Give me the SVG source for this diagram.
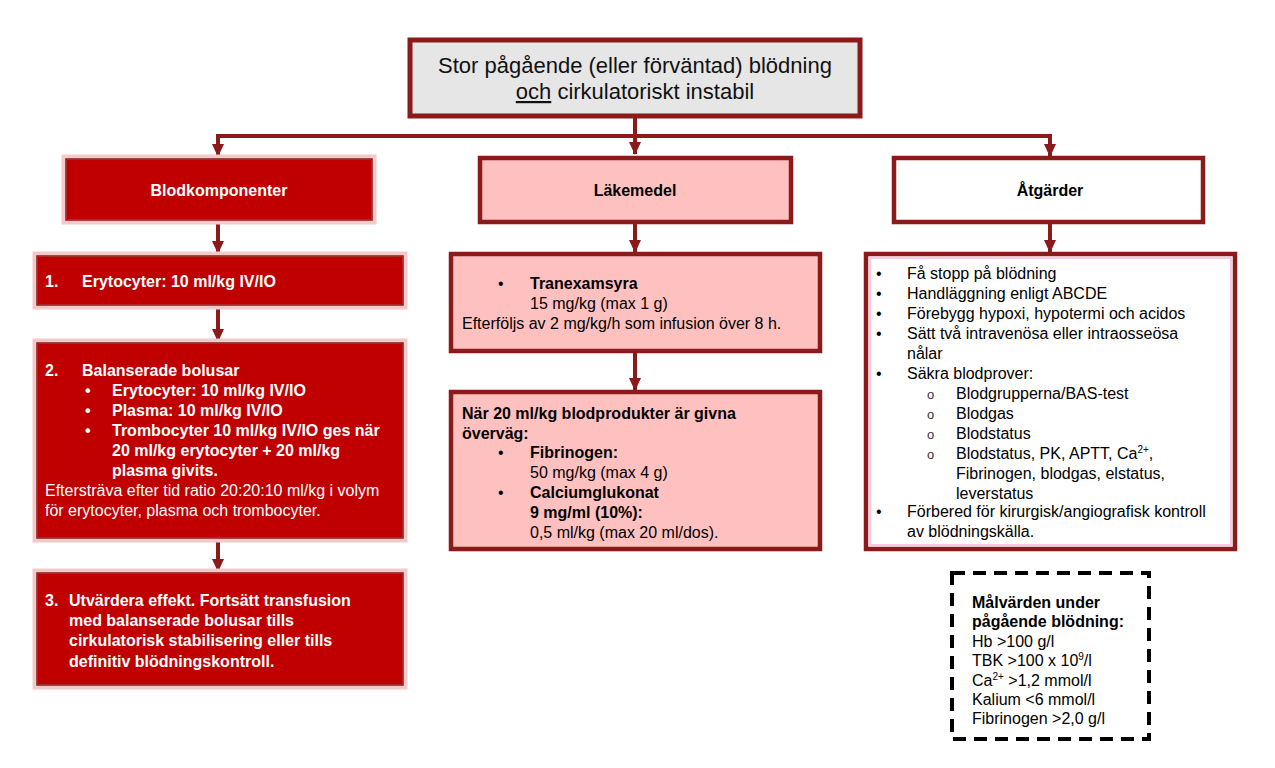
<svg xmlns="http://www.w3.org/2000/svg" width="1275" height="768" viewBox="0 0 1275 768">
<defs>
<marker id="arr" markerWidth="14" markerHeight="12" refX="12" refY="6" orient="auto" markerUnits="userSpaceOnUse">
<path d="M0,0 L13,6 L0,12 Z" fill="#8b1a1a"/>
</marker>
</defs>
<style>
text{font-family:"Liberation Sans",Arial,sans-serif;}
.t{font-size:16px;fill:#000;}
.tb{font-size:16px;font-weight:bold;fill:#000;}
.w{font-size:16px;font-weight:bold;fill:#fff;}
.wr{font-size:16px;fill:#fff;}
.o{font-size:13px;fill:#333;}
.sup{font-size:10px;}
.red{fill:#c00000;stroke:#f3c9c9;stroke-width:5;}
.redin{fill:none;stroke:#8b1a1a;stroke-width:1.5;}
.pink{fill:#ffc0c0;stroke:#8b1a1a;stroke-width:4.5;}
.white{fill:#fff;stroke:#8b1a1a;stroke-width:4.5;}
.halo{fill:none;stroke:#f8c8e8;stroke-width:2;}
.con{stroke:#8b1a1a;stroke-width:4;fill:none;}
</style>
<rect width="1275" height="768" fill="#fff"/>
<g id="connectors">
<line class="con" x1="635" y1="116" x2="635" y2="136"/>
<polyline class="con" points="218,146 218,136 1050,136 1050,146"/>
<line class="con" x1="635" y1="136" x2="635" y2="154" marker-end="url(#arr)"/>
<line class="con" x1="218" y1="146" x2="218" y2="156" marker-end="url(#arr)"/>
<line class="con" x1="1050" y1="146" x2="1050" y2="156" marker-end="url(#arr)"/>
<line class="con" x1="218" y1="221" x2="218" y2="253" marker-end="url(#arr)"/>
<line class="con" x1="218" y1="306" x2="218" y2="341" marker-end="url(#arr)"/>
<line class="con" x1="218" y1="539" x2="218" y2="571" marker-end="url(#arr)"/>
<line class="con" x1="635" y1="223" x2="635" y2="252" marker-end="url(#arr)"/>
<line class="con" x1="635" y1="352" x2="635" y2="390" marker-end="url(#arr)"/>
<line class="con" x1="1050" y1="223" x2="1050" y2="252" marker-end="url(#arr)"/>
</g>
<g id="top">
<rect x="410" y="40" width="450" height="76" fill="#e6e6e6" stroke="#8b1a1a" stroke-width="5"/>
<text x="635" y="73" text-anchor="middle" style="font-size:22px" fill="#111">Stor pågående (eller förväntad) blödning</text>
<text x="635" y="99" text-anchor="middle" style="font-size:22px" fill="#111"><tspan text-decoration="underline">och</tspan> cirkulatoriskt instabil</text>
</g>
<g id="blodkomponenter">
<rect class="red" x="64" y="157" width="310" height="65"/>
<rect class="redin" x="66" y="159" width="306" height="61"/>
<text class="w" x="219" y="196" text-anchor="middle">Blodkomponenter</text>
</g>
<g id="step1">
<rect class="red" x="35" y="254" width="370" height="53"/>
<rect class="redin" x="37" y="256" width="366" height="49"/>
<text class="w" x="45" y="287">1.</text>
<text class="w" x="82" y="287">Erytocyter: 10 ml/kg IV/IO</text>
</g>
<g id="step2">
<rect class="red" x="35" y="341" width="370" height="199"/>
<rect class="redin" x="37" y="343" width="366" height="195"/>
<text class="w" x="45" y="376">2.</text>
<text class="w" x="82" y="376">Balanserade bolusar</text>
<text class="w" x="85" y="396">•</text><text class="w" x="112" y="396">Erytocyter: 10 ml/kg IV/IO</text>
<text class="w" x="85" y="416">•</text><text class="w" x="112" y="416">Plasma: 10 ml/kg IV/IO</text>
<text class="w" x="85" y="436">•</text><text class="w" x="112" y="436">Trombocyter 10 ml/kg IV/IO ges när</text>
<text class="w" x="112" y="456">20 ml/kg erytocyter + 20 ml/kg</text>
<text class="w" x="112" y="476">plasma givits.</text>
<text class="wr" x="45" y="496">Eftersträva efter tid ratio 20:20:10 ml/kg i volym</text>
<text class="wr" x="45" y="516">för erytocyter, plasma och trombocyter.</text>
</g>
<g id="step3">
<rect class="red" x="35" y="571" width="370" height="116"/>
<rect class="redin" x="37" y="573" width="366" height="112"/>
<text class="w" x="45" y="606">3.</text>
<text class="w" x="69" y="606">Utvärdera effekt. Fortsätt transfusion</text>
<text class="w" x="69" y="626">med balanserade bolusar tills</text>
<text class="w" x="69" y="646">cirkulatorisk stabilisering eller tills</text>
<text class="w" x="69" y="667">definitiv blödningskontroll.</text>
</g>
<g id="lakemedel">
<rect class="pink" x="480" y="158" width="311" height="64"/>
<text class="tb" x="635" y="196" text-anchor="middle">Läkemedel</text>
</g>
<g id="tranexamsyra">
<rect class="pink" x="451" y="254" width="369" height="97"/>
<text class="t" x="498" y="289">•</text>
<text class="tb" x="530" y="289">Tranexamsyra</text>
<text class="t" x="530" y="309">15 mg/kg (max 1 g)</text>
<text class="t" x="462" y="329">Efterföljs av 2 mg/kg/h som infusion över 8 h.</text>
</g>
<g id="overvag">
<rect class="pink" x="451" y="392" width="369" height="157"/>
<text class="tb" x="462" y="419">När 20 ml/kg blodprodukter är givna</text>
<text class="tb" x="462" y="439">överväg:</text>
<text class="t" x="498" y="458">•</text>
<text class="tb" x="530" y="458">Fibrinogen:</text>
<text class="t" x="530" y="478">50 mg/kg (max 4 g)</text>
<text class="t" x="498" y="498">•</text>
<text class="tb" x="530" y="498">Calciumglukonat</text>
<text class="tb" x="530" y="518">9 mg/ml (10%):</text>
<text class="t" x="530" y="538">0,5 ml/kg (max 20 ml/dos).</text>
</g>
<g id="atgarder">
<rect class="white" x="894" y="158" width="309" height="64"/>
<text class="tb" x="1050" y="196" text-anchor="middle">Åtgärder</text>
</g>
<g id="atgarder-list">
<rect class="white" x="866" y="254" width="369" height="295"/>
<rect class="halo" x="870" y="258" width="361" height="287"/>
<text class="t" x="876" y="279">•</text><text class="t" x="907" y="279">Få stopp på blödning</text>
<text class="t" x="876" y="299">•</text><text class="t" x="907" y="299">Handläggning enligt ABCDE</text>
<text class="t" x="876" y="319">•</text><text class="t" x="907" y="319">Förebygg hypoxi, hypotermi och acidos</text>
<text class="t" x="876" y="339">•</text><text class="t" x="907" y="339">Sätt två intravenösa eller intraosseösa</text>
<text class="t" x="907" y="359">nålar</text>
<text class="t" x="876" y="379">•</text><text class="t" x="907" y="379">Säkra blodprover:</text>
<text class="o" x="927" y="399">o</text><text class="t" x="956" y="399">Blodgrupperna/BAS-test</text>
<text class="o" x="927" y="419">o</text><text class="t" x="956" y="419">Blodgas</text>
<text class="o" x="927" y="439">o</text><text class="t" x="956" y="439">Blodstatus</text>
<text class="o" x="927" y="459">o</text><text class="t" x="956" y="459">Blodstatus, PK, APTT, Ca<tspan dy="-6" class="sup">2+</tspan><tspan dy="6">,</tspan></text>
<text class="t" x="956" y="479">Fibrinogen, blodgas, elstatus,</text>
<text class="t" x="956" y="499">leverstatus</text>
<text class="t" x="876" y="517">•</text><text class="t" x="907" y="517">Förbered för kirurgisk/angiografisk kontroll</text>
<text class="t" x="907" y="537">av blödningskälla.</text>
</g>
<g id="malvarden">
<rect x="952" y="573" width="197" height="166" fill="#fff" stroke="#000" stroke-width="4" stroke-dasharray="13,8"/>
<text class="tb" x="972" y="608">Målvärden under</text>
<text class="tb" x="972" y="627">pågående blödning:</text>
<text class="t" x="972" y="647">Hb &gt;100 g/l</text>
<text class="t" x="972" y="666">TBK &gt;100 x 10<tspan dy="-6" class="sup">9</tspan><tspan dy="6">/l</tspan></text>
<text class="t" x="972" y="686">Ca<tspan dy="-6" class="sup">2+</tspan><tspan dy="6"> &gt;1,2 mmol/l</tspan></text>
<text class="t" x="972" y="705">Kalium &lt;6 mmol/l</text>
<text class="t" x="972" y="724">Fibrinogen &gt;2,0 g/l</text>
</g>
</svg>
